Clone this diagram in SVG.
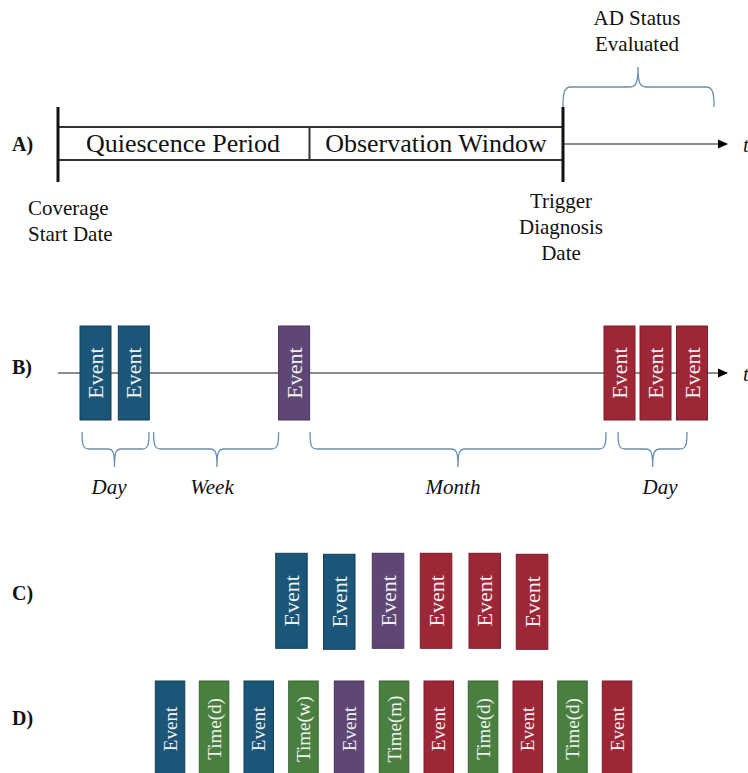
<svg xmlns="http://www.w3.org/2000/svg" width="748" height="773" viewBox="0 0 748 773">
<style>
text{font-family:"Liberation Serif","Times New Roman",serif;fill:#111}
.lbl{font-weight:bold;font-size:20px}
.big{font-size:26px;text-anchor:middle}
.cap{font-size:21px}
.mid{text-anchor:middle}
.it{font-style:italic;font-size:21px;text-anchor:middle}
.ev{fill:#f2f2f2;font-size:22px;text-anchor:middle}
.evs{fill:#f2f2f2;font-size:19px;text-anchor:middle}
.blue{fill:#1b5577;stroke:#143f59;stroke-width:1}
.purple{fill:#5e4775;stroke:#46345a;stroke-width:1}
.red{fill:#9e2737;stroke:#7a1c29;stroke-width:1}
.green{fill:#4a803f;stroke:#376230;stroke-width:1}
.brace{fill:none;stroke:#6a8eae;stroke-width:1.3}
.axis{stroke:#666;stroke-width:1.6;fill:none}
.bar{stroke:#111;stroke-width:3}
.box{stroke:#333;stroke-width:2;fill:none}
</style>
<defs>
<marker id="ah" markerWidth="10" markerHeight="10" refX="9" refY="5" orient="auto" markerUnits="userSpaceOnUse">
<path d="M0,0.5 L10,5 L0,9.5 Z" fill="#000"/>
</marker>
</defs>

<!-- Panel labels -->
<text class="lbl" x="12" y="151">A)</text>
<text class="lbl" x="12" y="374">B)</text>
<text class="lbl" x="12" y="600">C)</text>
<text class="lbl" x="12" y="725">D)</text>

<!-- Connectors -->
<g id="connectors">
<line class="axis" x1="563" y1="144" x2="727" y2="144" marker-end="url(#ah)"/>
<line class="axis" x1="58" y1="373" x2="727" y2="373" marker-end="url(#ah)"/>
<path class="brace" d="M563,107 C563,93 564,87 571,87 L630,87 C636,87 638,83 638,67 C638,83 640,87 646,87 L706,87 C713,87 714,93 714,107"/>
<path class="brace" d="M82,432 C82,445 83,449 89,449 L108,449 C113,449 114.5,452 114.5,467 C114.5,452 116,449 121,449 L142,449 C148,449 149,445 149,432"/>
<path class="brace" d="M153.6,432 C153.6,445 154.6,449 161,449 L210,449 C215.5,449 217,452 217,467 C217,452 218.5,449 224,449 L271,449 C277.6,449 278.6,445 278.6,432"/>
<path class="brace" d="M310,432 C310,445 311,449 317,449 L451,449 C456.5,449 458,452 458,467 C458,452 459.5,449 465,449 L599,449 C605,449 606,445 606,432"/>
<path class="brace" d="M618,432 C618,445 619,449 625,449 L646,449 C651,449 652.7,452 652.7,467 C652.7,452 654.5,449 660,449 L680,449 C686,449 687,445 687,432"/>
</g>

<!-- Panel A -->
<g id="timeline-A">
<line class="box" x1="58" y1="127" x2="563" y2="127"/>
<line class="box" x1="58" y1="160" x2="563" y2="160"/>
<line class="box" x1="309.5" y1="127" x2="309.5" y2="160"/>
<line class="bar" x1="58" y1="107" x2="58" y2="182"/>
<line class="bar" x1="563" y1="107" x2="563" y2="182"/>
</g>
<g id="quiescence"><text class="big" x="183" y="152">Quiescence Period</text></g>
<g id="observation"><text class="big" x="436" y="152">Observation Window</text></g>
<g id="ad-status"><text class="cap mid" x="637" y="25">AD Status</text><text class="cap mid" x="637" y="51">Evaluated</text></g>
<g id="coverage"><text class="cap" x="28" y="215">Coverage</text><text class="cap" x="28" y="241">Start Date</text></g>
<g id="trigger"><text class="cap mid" x="561" y="208">Trigger</text><text class="cap mid" x="561" y="234">Diagnosis</text><text class="cap mid" x="561" y="260">Date</text></g>
<text x="743" y="152" style="font-style:italic;font-size:21px">t</text>

<!-- Panel B -->
<g id="B-e1"><rect class="blue" x="80" y="326" width="31" height="94"/><text class="ev" transform="translate(95.5,373) rotate(-90)" y="7.5">Event</text></g>
<g id="B-e2"><rect class="blue" x="118.3" y="326" width="31" height="94"/><text class="ev" transform="translate(133.8,373) rotate(-90)" y="7.5">Event</text></g>
<g id="B-e3"><rect class="purple" x="278.6" y="326" width="31" height="94"/><text class="ev" transform="translate(294.1,373) rotate(-90)" y="7.5">Event</text></g>
<g id="B-e4"><rect class="red" x="604" y="326" width="31" height="94"/><text class="ev" transform="translate(619.5,373) rotate(-90)" y="7.5">Event</text></g>
<g id="B-e5"><rect class="red" x="640" y="326" width="31" height="94"/><text class="ev" transform="translate(655.5,373) rotate(-90)" y="7.5">Event</text></g>
<g id="B-e6"><rect class="red" x="676.5" y="326" width="31" height="94"/><text class="ev" transform="translate(692,373) rotate(-90)" y="7.5">Event</text></g>
<text x="743" y="381" style="font-style:italic;font-size:21px">t</text>
<g id="B-day1"><text class="it" x="109" y="494">Day</text></g>
<g id="B-week"><text class="it" x="212" y="494">Week</text></g>
<g id="B-month"><text class="it" x="453" y="494">Month</text></g>
<g id="B-day2"><text class="it" x="660" y="494">Day</text></g>

<!-- Panel C -->
<g id="C-e1"><rect class="blue" x="275.7" y="553.3" width="31.5" height="95"/><text class="ev" transform="translate(291.5,600.8) rotate(-90)" y="7.5">Event</text></g>
<g id="C-e2"><rect class="blue" x="323.5" y="554.3" width="31.5" height="95"/><text class="ev" transform="translate(339.3,601.8) rotate(-90)" y="7.5">Event</text></g>
<g id="C-e3"><rect class="purple" x="372.3" y="553.3" width="31.5" height="95"/><text class="ev" transform="translate(388,600.8) rotate(-90)" y="7.5">Event</text></g>
<g id="C-e4"><rect class="red" x="420.3" y="553.3" width="31.5" height="95"/><text class="ev" transform="translate(436,600.8) rotate(-90)" y="7.5">Event</text></g>
<g id="C-e5"><rect class="red" x="469" y="553.3" width="31.5" height="95"/><text class="ev" transform="translate(484.8,600.8) rotate(-90)" y="7.5">Event</text></g>
<g id="C-e6"><rect class="red" x="516.3" y="554.3" width="31.5" height="95"/><text class="ev" transform="translate(532,601.8) rotate(-90)" y="7.5">Event</text></g>

<!-- Panel D -->
<g id="D-1"><rect class="blue" x="155.3" y="681" width="29.5" height="95"/><text class="evs" transform="translate(170,729) rotate(-90)" y="6.5">Event</text></g>
<g id="D-2"><rect class="green" x="199.3" y="681" width="29.5" height="95"/><text class="evs" transform="translate(214,729) rotate(-90)" y="6.5">Time(d)</text></g>
<g id="D-3"><rect class="blue" x="244" y="681" width="29.5" height="95"/><text class="evs" transform="translate(258.8,729) rotate(-90)" y="6.5">Event</text></g>
<g id="D-4"><rect class="green" x="288.7" y="681" width="29.5" height="95"/><text class="evs" transform="translate(303.5,729) rotate(-90)" y="6.5">Time(w)</text></g>
<g id="D-5"><rect class="purple" x="334.3" y="681" width="29.5" height="95"/><text class="evs" transform="translate(349,729) rotate(-90)" y="6.5">Event</text></g>
<g id="D-6"><rect class="green" x="379.3" y="681" width="29.5" height="95"/><text class="evs" transform="translate(394,729) rotate(-90)" y="6.5">Time(m)</text></g>
<g id="D-7"><rect class="red" x="424" y="681" width="29.5" height="95"/><text class="evs" transform="translate(438.8,729) rotate(-90)" y="6.5">Event</text></g>
<g id="D-8"><rect class="green" x="468.3" y="681" width="29.5" height="95"/><text class="evs" transform="translate(483,729) rotate(-90)" y="6.5">Time(d)</text></g>
<g id="D-9"><rect class="red" x="513" y="681" width="29.5" height="95"/><text class="evs" transform="translate(527.8,729) rotate(-90)" y="6.5">Event</text></g>
<g id="D-10"><rect class="green" x="557.7" y="681" width="29.5" height="95"/><text class="evs" transform="translate(572.5,729) rotate(-90)" y="6.5">Time(d)</text></g>
<g id="D-11"><rect class="red" x="602.3" y="681" width="29.5" height="95"/><text class="evs" transform="translate(617,729) rotate(-90)" y="6.5">Event</text></g>
</svg>
